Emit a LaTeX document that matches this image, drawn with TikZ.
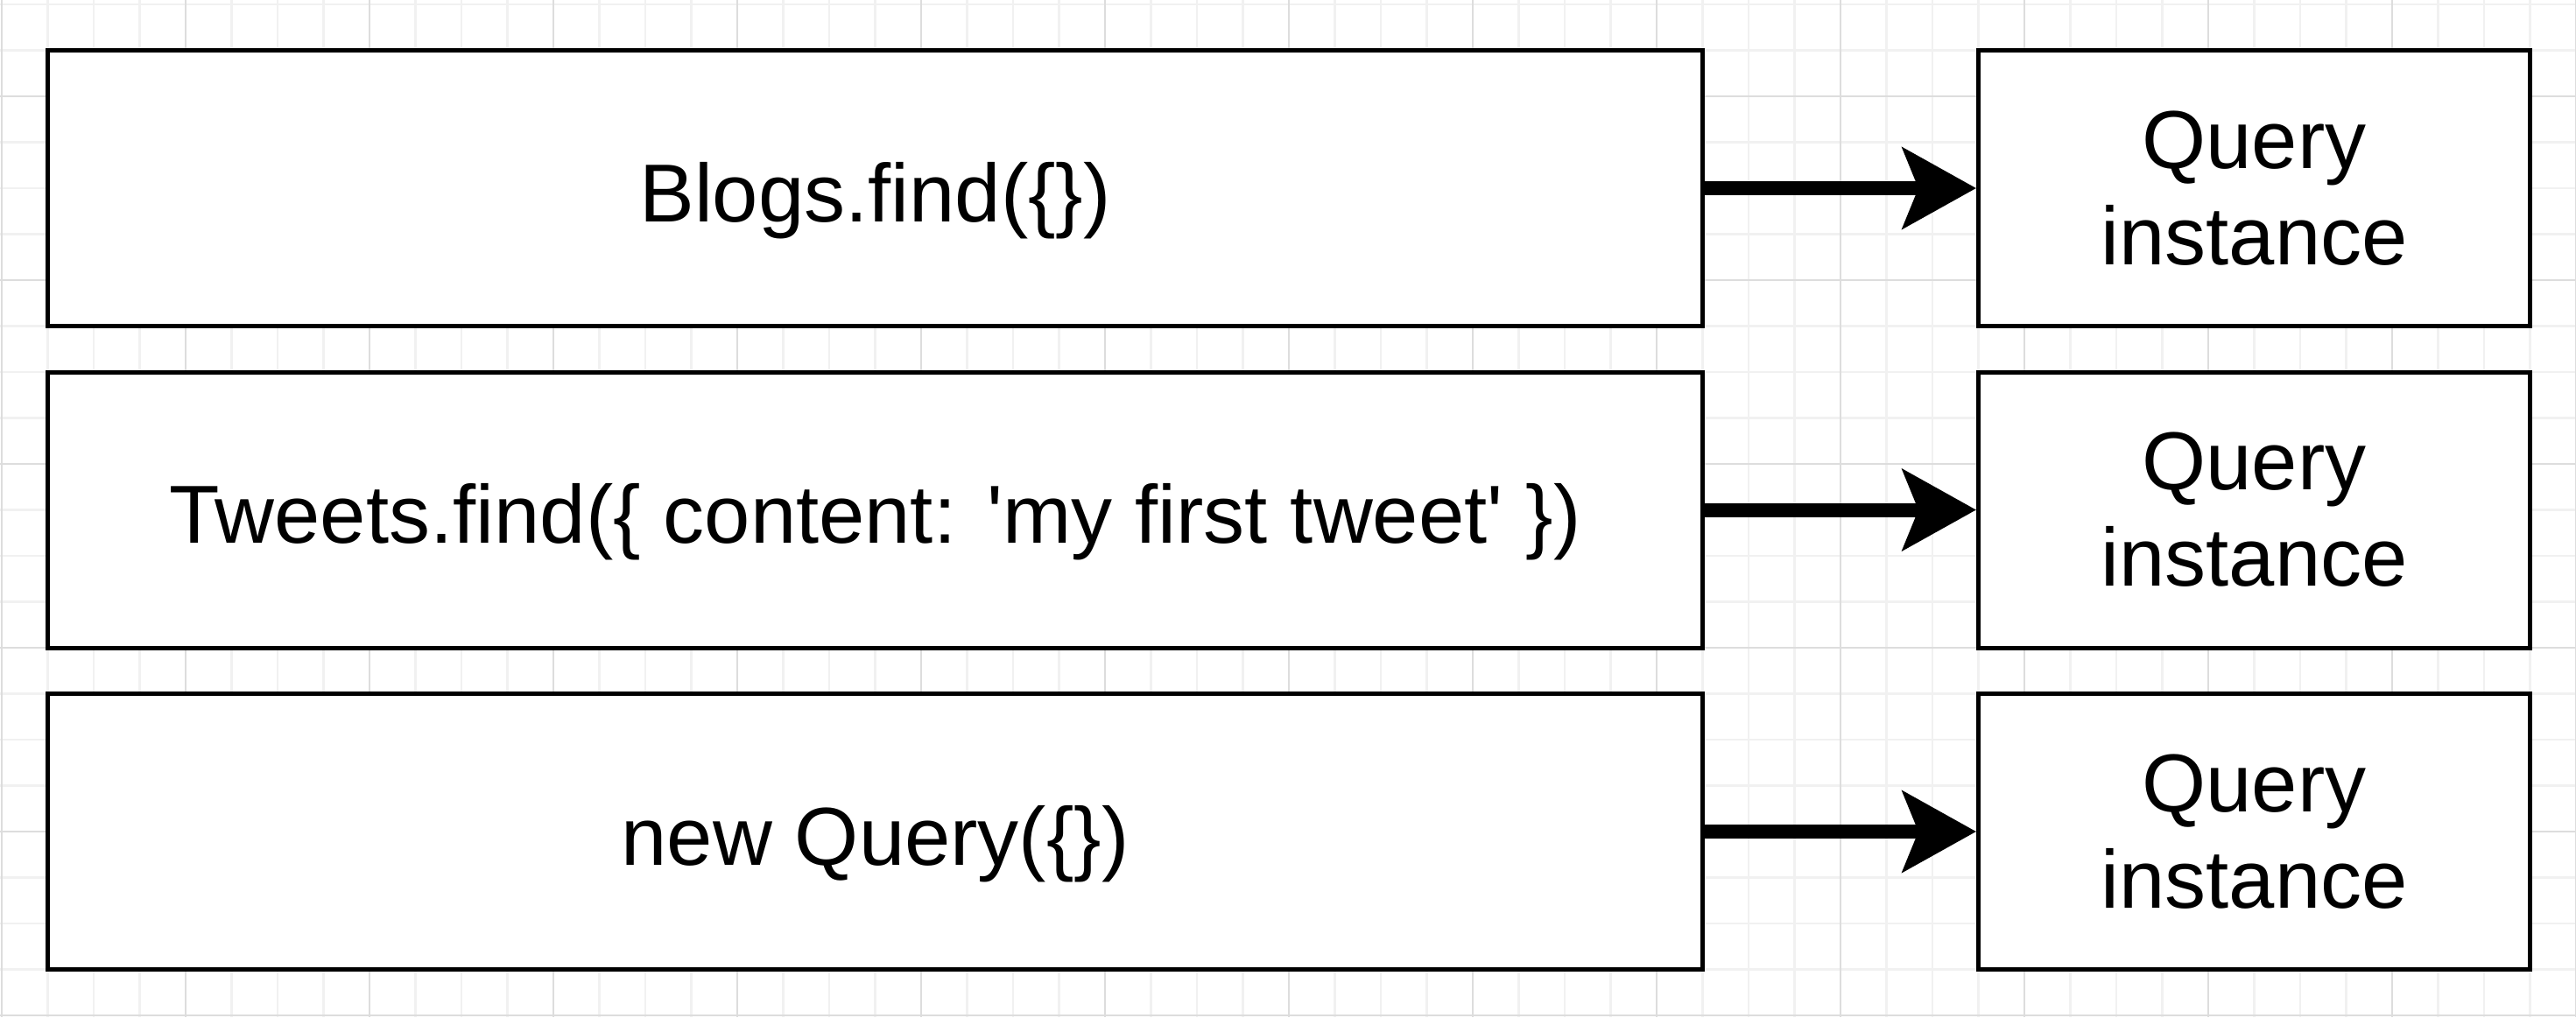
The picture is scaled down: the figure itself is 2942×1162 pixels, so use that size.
\documentclass[tikz,border=0pt]{standalone}
\usepackage{fontspec}
\setmainfont{Liberation Sans}
\usetikzlibrary{arrows.meta}
\definecolor{gridminor}{HTML}{F1F1F1}
\definecolor{gridmajor}{HTML}{DDDDDD}
\begin{document}
\begin{tikzpicture}[x=0.5pt,y=-0.5pt,
  minorline/.style={draw=gridminor,line width=1.2pt},
  majorline/.style={draw=gridmajor,line width=1.2pt},
  callbox/.style={draw=black,fill=white,line width=2.5pt,inner sep=0pt,
    minimum width=945pt,minimum height=157.5pt,text height=38pt,text depth=0pt,
    font=\fontsize{47pt}{55pt}\selectfont},
  resbox/.style={draw=black,fill=white,line width=2.5pt,inner sep=0pt,
    minimum width=315pt,minimum height=157.5pt,align=center,
    font=\fontsize{47pt}{55pt}\selectfont},
  conn/.style={line width=8pt,-{Stealth[length=42pt,width=46pt,inset=9pt]}}]
\useasboundingbox (0,0) rectangle (2942,1162);
\fill[white] (0,0) rectangle (2942,1162);
% grid
\foreach \i in {0,...,56} \draw[minorline] ({2+52.5*\i},0) -- ({2+52.5*\i},1162);
\foreach \i in {0,...,22} \draw[minorline] (0,{5+52.5*\i}) -- (2942,{5+52.5*\i});
\foreach \i in {0,...,14} \draw[majorline] ({2+210*\i},0) -- ({2+210*\i},1162);
\foreach \i in {0,...,5} \draw[majorline] (0,{110+210*\i}) -- (2942,{110+210*\i});
% nodes
\node[callbox] (b1) at (999.5,215) {Blogs.find(\{\})};
\node[callbox] (b2) at (999.5,582.5) {Tweets.find(\{ content: \textquotesingle my first tweet\textquotesingle\ \})};
\node[callbox] (b3) at (999.5,950) {new Query(\{\})};
\node[resbox] (q1) at (2574.5,215) {Query\\instance};
\node[resbox] (q2) at (2574.5,582.5) {Query\\instance};
\node[resbox] (q3) at (2574.5,950) {Query\\instance};
% connectors
\draw[conn] (b1.east) -- (q1.west);
\draw[conn] (b2.east) -- (q2.west);
\draw[conn] (b3.east) -- (q3.west);
\end{tikzpicture}
\end{document}
